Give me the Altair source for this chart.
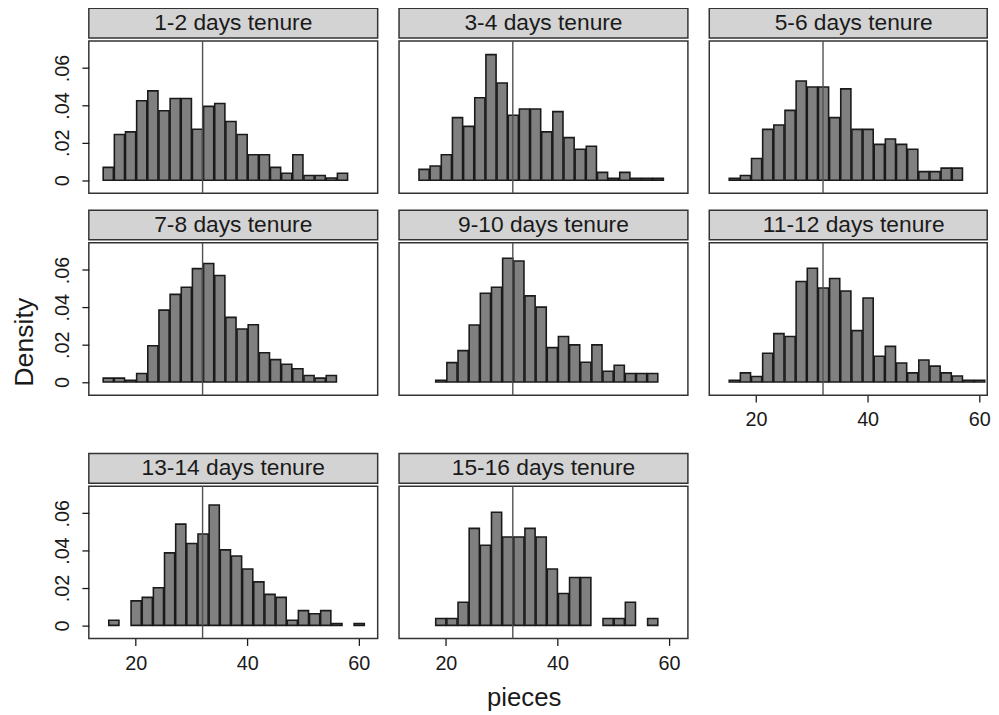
import altair as alt
import pandas as pd

# ---------------- data ----------------
panel_labels = [
    "1-2 days tenure", "3-4 days tenure", "5-6 days tenure",
    "7-8 days tenure", "9-10 days tenure", "11-12 days tenure",
    "13-14 days tenure", "15-16 days tenure",
]
bin_width = 2
bin_starts = [14, 15, 15, 14, 18, 15, 15, 18]

dens_1_2 = [0.0069, 0.0245, 0.0259, 0.0425, 0.0478, 0.0372, 0.0437, 0.0437, 0.0273, 0.0395, 0.0411,
            0.0314, 0.0245, 0.0136, 0.0136, 0.0069, 0.0037, 0.0136, 0.0025, 0.0025, 0.0012, 0.0037]
dens_3_4 = [0.0058, 0.0076, 0.0136, 0.0335, 0.0288, 0.0441, 0.0672, 0.0520, 0.0348, 0.0381, 0.0381,
            0.0259, 0.0367, 0.0228, 0.0166, 0.0182, 0.0042, 0.0010, 0.0042, 0.0010, 0.0010, 0.0010]
dens_5_6 = [0.0010, 0.0025, 0.0116, 0.0272, 0.0296, 0.0374, 0.0531, 0.0499, 0.0499, 0.0335, 0.0489,
            0.0272, 0.0272, 0.0192, 0.0221, 0.0192, 0.0166, 0.0046, 0.0046, 0.0065, 0.0065]
dens_7_8 = [0.0021, 0.0021, 0.0010, 0.0046, 0.0194, 0.0385, 0.0469, 0.0507, 0.0607, 0.0634, 0.0570,
            0.0346, 0.0284, 0.0307, 0.0157, 0.0120, 0.0095, 0.0071, 0.0035, 0.0021, 0.0035]
dens_9_10 = [0.0010, 0.0104, 0.0168, 0.0305, 0.0475, 0.0507, 0.0662, 0.0648, 0.0461, 0.0401, 0.0184,
             0.0244, 0.0199, 0.0106, 0.0199, 0.0058, 0.0090, 0.0046, 0.0046, 0.0046]
dens_11_12 = [0.0010, 0.0049, 0.0030, 0.0154, 0.0259, 0.0244, 0.0538, 0.0609, 0.0503, 0.0554, 0.0487,
              0.0275, 0.0450, 0.0138, 0.0191, 0.0102, 0.0049, 0.0118, 0.0085, 0.0049, 0.0032, 0.0010, 0.0010]
dens_13_14 = [0.0028, 0.0, 0.0131, 0.0150, 0.0201, 0.0388, 0.0542, 0.0438, 0.0489, 0.0644, 0.0404,
              0.0371, 0.0302, 0.0233, 0.0166, 0.0150, 0.0028, 0.0079, 0.0062, 0.0079, 0.0010, 0.0, 0.0010]
dens_15_16 = [0.0037, 0.0037, 0.0124, 0.0519, 0.0429, 0.0605, 0.0473, 0.0473, 0.0519, 0.0473, 0.0302,
              0.0171, 0.0256, 0.0256, 0.0, 0.0037, 0.0037, 0.0124, 0.0, 0.0037]
densities = [dens_1_2, dens_3_4, dens_5_6, dens_7_8, dens_9_10, dens_11_12, dens_13_14, dens_15_16]

ref_line = [32]
y_ticks = [0, 0.02, 0.04, 0.06]
x_ticks = [20, 40, 60]

# ---------------- styling ----------------
FONT = "Liberation Sans"
W = 292
W3 = 281
H = 154
STRIP_H = 30
X_SPAN = 51.8
X_MIN = 11.6
Y_DOMAIN = [-0.007, 0.0745]
INK = "#1a1a1a"


def y_axis(title_visible):
    return alt.Axis(
        values=y_ticks,
        labelExpr="datum.value == 0 ? '0' : slice(format(datum.value, '.2f'), 1)",
        tickSize=7, tickColor=INK, tickWidth=1.3,
        labelAngle=270, labelAlign="center", labelBaseline="alphabetic",
        labelPadding=14, labelFontSize=20, labelFont=FONT, labelColor=INK,
        labelFlush=False, labelOverlap=False,
        domain=False, grid=False,
        title="Density", titleFont=FONT, titleFontSize=27, titleFontWeight="normal",
        titleColor=INK, titleOpacity=1 if title_visible else 0,
        titleAngle=270, titleAlign="center", titleBaseline="alphabetic",
        titleX=-57, titleY=100,
    )


def x_axis(title):
    kw = dict(
        values=x_ticks, tickSize=7, tickColor=INK, tickWidth=1.3,
        labelFontSize=20, labelFont=FONT, labelColor=INK, labelPadding=8,
        labelFlush=False, labelOverlap=False, domain=False, grid=False,
    )
    if title:
        kw.update(title=title, titleFont=FONT, titleFontSize=26, titleFontWeight="normal",
                  titleColor=INK, titleX=126, titleY=68, titleAlign="center",
                  titleBaseline="alphabetic")
    else:
        kw.update(title=None)
    return alt.Axis(**kw)


def panel(i, width, show_y, y_title_visible, show_x, x_title=None):
    n = len(densities[i])
    df = pd.DataFrame({
        "start": [bin_starts[i] + k * bin_width for k in range(n)],
        "density": densities[i],
    })
    df["end"] = df["start"] + bin_width
    xdom = [X_MIN, X_MIN + X_SPAN * width / W]
    xscale = alt.Scale(domain=xdom, nice=False, zero=False)
    xax = x_axis(x_title) if show_x else None
    yax = y_axis(y_title_visible) if show_y else None

    bars = alt.Chart(df).transform_filter("datum.density > 0").mark_bar(
        fill="#808080", stroke=INK, strokeWidth=1.6
    ).encode(
        x=alt.X("start:Q", scale=xscale, axis=xax, bin="binned"),
        x2="end:Q",
        y=alt.Y("density:Q", scale=alt.Scale(domain=Y_DOMAIN, nice=False, zero=False), axis=yax),
        y2=alt.datum(0),
    )
    rule = alt.Chart(pd.DataFrame({"start": ref_line})).mark_rule(
        color="#505050", strokeWidth=1.4
    ).encode(x=alt.X("start:Q", scale=xscale, axis=xax))
    plot = alt.layer(bars, rule).properties(width=width, height=H)

    strip = alt.Chart(pd.DataFrame({"label": [panel_labels[i]]})).mark_text(
        font=FONT, fontSize=23, color=INK, baseline="middle", align="center"
    ).encode(
        text="label:N", x=alt.value(W / 2), y=alt.value(STRIP_H / 2)
    ).properties(
        width=width, height=STRIP_H,
        view=alt.ViewBackground(fill="#d3d3d3", stroke="#333333", strokeWidth=1.5),
    )
    return alt.vconcat(strip, plot, spacing=0)


p = [
    panel(0, W, True, False, False),
    panel(1, W, False, False, False),
    panel(2, W3, False, False, False),
    panel(3, W, True, True, False),
    panel(4, W, False, False, False),
    panel(5, W3, False, False, True),
    panel(6, W, True, False, True),
    panel(7, W, False, False, True, "pieces"),
]

COLSP = 19.6
row1 = alt.hconcat(p[0], p[1], p[2], spacing=COLSP)
row2 = alt.hconcat(p[3], p[4], p[5], spacing=COLSP)
row3 = alt.hconcat(p[6], p[7], spacing=COLSP)

chart = alt.vconcat(
    alt.vconcat(row1, row2, spacing=14),
    row3,
    spacing=22,
).properties(
    padding={"left": 1.7, "top": -4.5, "right": 0, "bottom": 0},
    background="white",
).configure_view(
    stroke="#333333", strokeWidth=1.5
).configure_concat(spacing=0)

chart.save("out.html", embed_options={"renderer": "svg", "actions": False})
